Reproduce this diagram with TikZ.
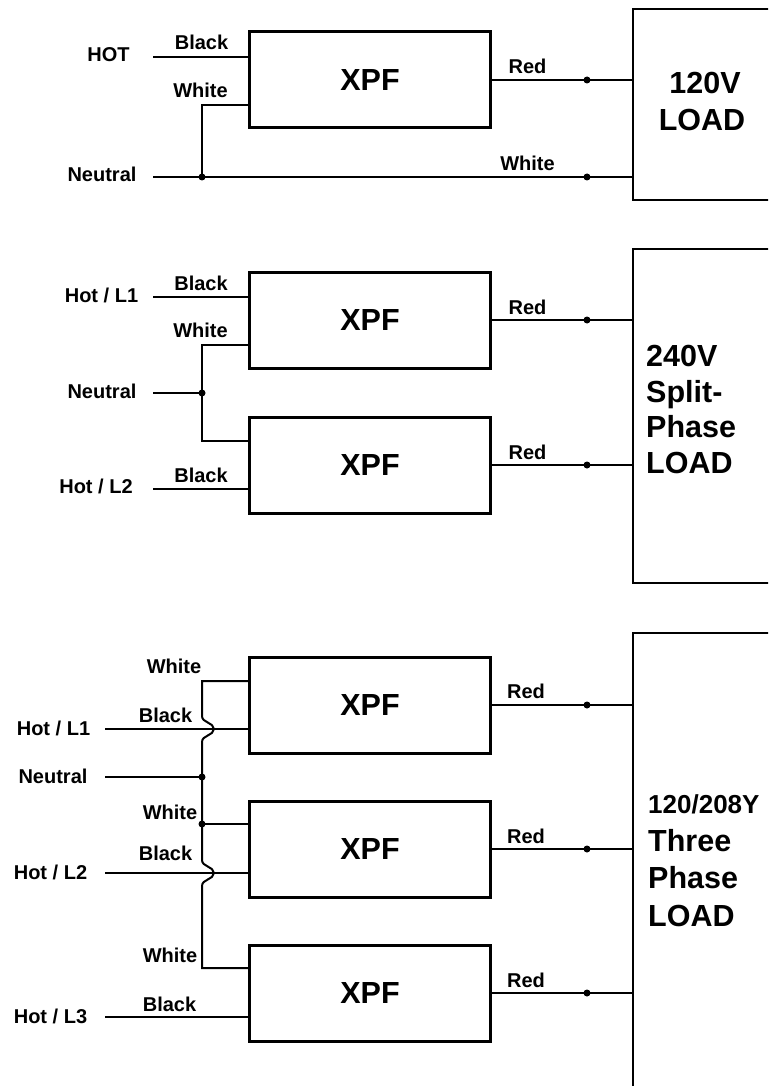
\documentclass[tikz,border=0pt]{standalone}
\usepackage{fontspec}
\setmainfont{Liberation Sans}
\begin{document}
\begin{tikzpicture}[x=1pt,y=-1pt,
  xpf/.style={draw, line width=3pt, minimum width=241pt, minimum height=96pt, inner sep=0pt, font=\fontsize{30.5}{36}\selectfont\bfseries},
  load/.style={draw, line width=2.8pt, minimum width=138pt, inner sep=0pt},
  wire/.style={line width=2pt},
  lbl/.style={font=\fontsize{20}{24}\selectfont\bfseries, inner sep=0pt, anchor=base},
  big/.style={font=\fontsize{30.5}{36}\selectfont\bfseries, inner sep=0pt, anchor=base west},
  mid/.style={font=\fontsize{26}{30}\selectfont\bfseries, inner sep=0pt, anchor=base west},
  dot/.style={circle, fill, inner sep=0pt, minimum size=7pt}
]
\clip (0,0) rectangle (768,1086);
\fill[white] (0,0) rectangle (768,1086);

% ---------- section 1 ----------
\node[xpf] (xa) at (370,80) {XPF};
\node[load, minimum height=191pt] (la) at (702,104.5) {};
\coordinate (hotA) at (153,57);
\coordinate (neuA) at (153,177);
\node[dot] (ja) at (202,177) {};
\node[dot] (ra) at (587,80) {};
\node[dot] (wa) at (587,177) {};
\draw[wire] (hotA) -- (hotA -| xa.west);
\draw[wire] (xa.west |- 0,105) -- (202,105) -- (ja.center);
\draw[wire] (neuA) -- (ja.center) -- (wa.center) -- (wa.center -| la.west);
\draw[wire] (xa.east |- ra.center) -- (ra.center) -- (ra.center -| la.west);
\node[lbl] (tHotA) at (108.5,62) {HOT};
\node[lbl] (tBa) at (201.5,50) {Black};
\node[lbl] (tWa) at (200.5,98) {White};
\node[lbl] (tNa) at (102,182) {Neutral};
\node[lbl] (tRa) at (527.5,74) {Red};
\node[lbl] (tWa2) at (527.5,171) {White};
\node[big, anchor=base] (tLa1) at (705,94) {120V};
\node[big, anchor=base] (tLa2) at (702,131) {LOAD};

% ---------- section 2 ----------
\node[xpf] (xb1) at (370,320.5) {XPF};
\node[xpf] (xb2) at (370,465) {XPF};
\node[load, minimum height=334pt] (lb) at (702,416) {};
\coordinate (hotB1) at (153,297);
\coordinate (neuB) at (153,393);
\coordinate (hotB2) at (153,489);
\node[dot] (jb) at (202,393) {};
\node[dot] (rb1) at (587,320) {};
\node[dot] (rb2) at (587,465) {};
\draw[wire] (hotB1) -- (hotB1 -| xb1.west);
\draw[wire] (xb1.west |- 0,345) -- (202,345) -- (jb.center) -- (202,441) -- (xb2.west |- 0,441);
\draw[wire] (neuB) -- (jb.center);
\draw[wire] (hotB2) -- (hotB2 -| xb2.west);
\draw[wire] (xb1.east |- rb1.center) -- (rb1.center) -- (rb1.center -| lb.west);
\draw[wire] (xb2.east |- rb2.center) -- (rb2.center) -- (rb2.center -| lb.west);
\node[lbl] (tHb1) at (101.5,302) {Hot / L1};
\node[lbl] (tBb1) at (201,290) {Black};
\node[lbl] (tWb) at (200.5,337) {White};
\node[lbl] (tNb) at (102,398) {Neutral};
\node[lbl] (tHb2) at (96,493) {Hot / L2};
\node[lbl] (tBb2) at (201,482) {Black};
\node[lbl] (tRb1) at (527.5,314) {Red};
\node[lbl] (tRb2) at (527.5,459) {Red};
\node[big] (tLb1) at (646,366) {240V};
\node[big] (tLb2) at (646,402) {Split-};
\node[big] (tLb3) at (646,437) {Phase};
\node[big] (tLb4) at (646,473) {LOAD};

% ---------- section 3 ----------
\node[xpf] (xc1) at (370,705) {XPF};
\node[xpf] (xc2) at (370,849) {XPF};
\node[xpf] (xc3) at (370,993) {XPF};
\node[load, minimum height=467pt] (lc) at (702,866.5) {};
\coordinate (hotC1) at (105,729);
\coordinate (neuC) at (105,777);
\coordinate (hotC2) at (105,873);
\coordinate (hotC3) at (105,1017);
\node[dot] (jc1) at (202,777) {};
\node[dot] (jc2) at (202,824) {};
\node[dot] (rc1) at (587,705) {};
\node[dot] (rc2) at (587,849) {};
\node[dot] (rc3) at (587,993) {};
\draw[wire] (xc1.west |- 0,681) -- (202,681) -- (202,716)
  to[out=-90,in=95] (214,729) to[out=-95,in=90] (202,742)
  -- (jc1.center) -- (jc2.center) -- (202,860)
  to[out=-90,in=95] (214,873) to[out=-95,in=90] (202,886)
  -- (202,968) -- (xc3.west |- 0,968);
\draw[wire] (jc2.center) -- (jc2.center -| xc2.west);
\draw[wire] (neuC) -- (jc1.center);
\draw[wire] (hotC1) -- (hotC1 -| xc1.west);
\draw[wire] (hotC2) -- (hotC2 -| xc2.west);
\draw[wire] (hotC3) -- (hotC3 -| xc3.west);
\draw[wire] (xc1.east |- rc1.center) -- (rc1.center) -- (rc1.center -| lc.west);
\draw[wire] (xc2.east |- rc2.center) -- (rc2.center) -- (rc2.center -| lc.west);
\draw[wire] (xc3.east |- rc3.center) -- (rc3.center) -- (rc3.center -| lc.west);
\node[lbl] (tWc1) at (174,673) {White};
\node[lbl] (tBc1) at (165.5,722) {Black};
\node[lbl] (tHc1) at (53.5,735) {Hot / L1};
\node[lbl] (tNc) at (53,783) {Neutral};
\node[lbl] (tWc2) at (170,819) {White};
\node[lbl] (tBc2) at (165.5,860) {Black};
\node[lbl] (tHc2) at (50.5,879) {Hot / L2};
\node[lbl] (tWc3) at (170,962) {White};
\node[lbl] (tBc3) at (169.5,1011) {Black};
\node[lbl] (tHc3) at (50.5,1023) {Hot / L3};
\node[lbl] (tRc1) at (526,698) {Red};
\node[lbl] (tRc2) at (526,843) {Red};
\node[lbl] (tRc3) at (526,987) {Red};
\node[mid] (tLc1) at (648,813) {120/208Y};
\node[big] (tLc2) at (648,851) {Three};
\node[big] (tLc3) at (648,888) {Phase};
\node[big] (tLc4) at (648,926) {LOAD};
\end{tikzpicture}
\end{document}
